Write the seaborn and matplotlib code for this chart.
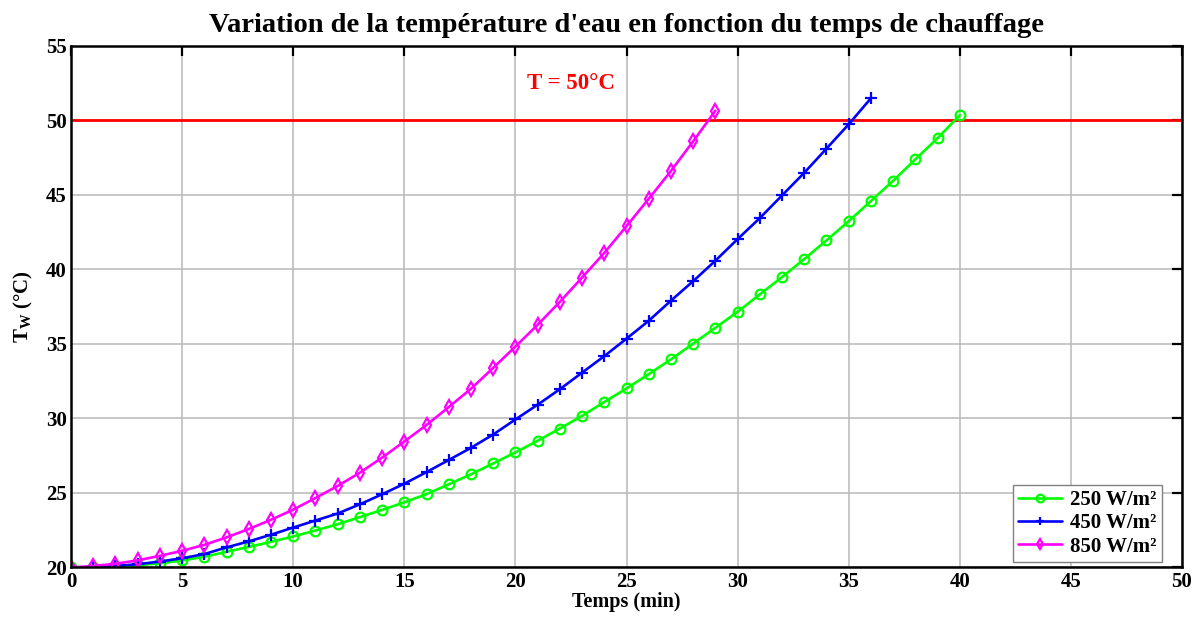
import matplotlib
matplotlib.use("Agg")
import matplotlib.pyplot as plt
import numpy as np
import pandas as pd
import seaborn as sns

# Heating time (minutes) and water temperature (°C) for each irradiance level
temps_250 = [20.0, 20.02, 20.07, 20.16, 20.28, 20.47, 20.72, 21.05, 21.38, 21.72,
             22.08, 22.48, 22.9, 23.38, 23.86, 24.37, 24.92, 25.58, 26.25, 26.98,
             27.72, 28.5, 29.32, 30.17, 31.1, 32.01, 32.97, 33.96, 35.02, 36.08,
             37.15, 38.32, 39.48, 40.69, 41.94, 43.23, 44.58, 45.94, 47.38, 48.8,
             50.34]
temps_450 = [20.0, 20.03, 20.1, 20.22, 20.4, 20.62, 20.9, 21.35, 21.75, 22.2,
             22.68, 23.15, 23.62, 24.24, 24.91, 25.62, 26.4, 27.21, 28.03, 28.92,
             29.93, 30.92, 31.96, 33.07, 34.18, 35.35, 36.55, 37.9, 39.21, 40.58,
             42.03, 43.44, 44.96, 46.48, 48.1, 49.73, 51.48]
temps_850 = [20.0, 20.1, 20.25, 20.48, 20.78, 21.12, 21.52, 22.02, 22.58, 23.2,
             23.88, 24.66, 25.47, 26.36, 27.37, 28.45, 29.56, 30.76, 31.99, 33.39,
             34.82, 36.28, 37.82, 39.45, 41.1, 42.9, 44.73, 46.6, 48.59, 50.64]

series_labels = ["250 W/m²", "450 W/m²", "850 W/m²"]
series_values = [temps_250, temps_450, temps_850]
series_colors = ["#00ff00", "#0000ff", "#ff00ff"]
series_markers = ["o", "+", "d"]

threshold = 50
threshold_label = "T = 50°C"

x_ticks = [0, 5, 10, 15, 20, 25, 30, 35, 40, 45, 50]
y_ticks = [20, 25, 30, 35, 40, 45, 50, 55]

sns.set_style("white")
plt.rcParams["font.family"] = ["Liberation Serif", "DejaVu Serif"]
plt.rcParams["font.weight"] = "bold"
plt.rcParams["text.color"] = "black"
plt.rcParams["axes.labelcolor"] = "black"
plt.rcParams["mathtext.fontset"] = "custom"
plt.rcParams["mathtext.rm"] = "Liberation Serif:bold"
plt.rcParams["mathtext.it"] = "Liberation Serif:bold"

frames = []
for label, vals in zip(series_labels, series_values):
    frames.append(pd.DataFrame({"Temps": np.arange(len(vals)), "T": vals, "Série": label}))
df = pd.concat(frames, ignore_index=True)

fig = plt.figure(figsize=(11.92, 6.2), dpi=100)
ax = fig.add_axes([0.0596, 0.0847, 0.9320, 0.8415])

for label, color, marker in zip(series_labels, series_colors, series_markers):
    sub = df[df["Série"] == label]
    sns.lineplot(data=sub, x="Temps", y="T", ax=ax, color=color, label=label,
                 linewidth=1.9, marker=marker, markersize=7 if marker != "+" else 8,
                 markerfacecolor="none", markeredgecolor=color, markeredgewidth=1.6,
                 estimator=None, sort=False)

ax.axhline(threshold, color="#ff0000", linewidth=2.0, zorder=1)
ax.text(22.5, 52.5, threshold_label, color="#ff0000", fontsize=16.5,
        fontweight="bold", ha="center", va="center")

ax.set_xlim(0, 50)
ax.set_ylim(20, 55)
ax.set_xticks(x_ticks)
ax.set_yticks(y_ticks)
ax.grid(True, color="#b8b8b8", linewidth=1.1)
ax.set_axisbelow(True)

for spine in ax.spines.values():
    spine.set_color("black")
    spine.set_linewidth(1.8)

ax.tick_params(axis="both", direction="in", length=7, width=1.6,
               top=True, right=True, labelsize=15, pad=3, colors="black")
for lbl in ax.get_xticklabels() + ax.get_yticklabels():
    lbl.set_fontweight("bold")

ax.set_xlabel("Temps (min)", fontsize=14.5, fontweight="bold", labelpad=0, color="black")
ax.set_ylabel("T$_{\\mathrm{W}}$ (°C)", fontsize=15, fontweight="bold", labelpad=8, color="black")
ax.set_title("Variation de la température d'eau en fonction du temps de chauffage",
             fontsize=20.5, fontweight="bold", pad=10, color="black")

leg = ax.legend(loc="lower right", bbox_to_anchor=(0.982, 0.011), fontsize=15,
                frameon=True, fancybox=False, edgecolor="#808080", framealpha=1,
                handlelength=2.1, borderaxespad=0, labelspacing=0.15,
                borderpad=0.25, handletextpad=0.4, markerscale=0.8)
leg.get_frame().set_linewidth(1.0)
for t in leg.get_texts():
    t.set_fontweight("bold")
    t.set_color("black")

fig.savefig("out.png", dpi=100)
